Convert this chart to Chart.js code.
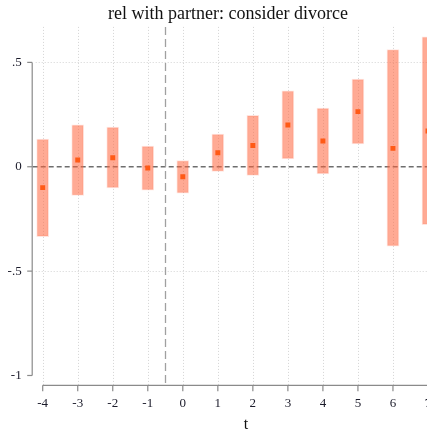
<!DOCTYPE html>
<html>
<head>
<meta charset="utf-8">
<title>rel with partner: consider divorce</title>
<script src="https://cdn.jsdelivr.net/npm/chart.js@4"></script>
<style>
  html, body { margin: 0; padding: 0; background: #fff; overflow: hidden; }
  #wrap { width: 462px; height: 430px; }
</style>
</head>
<body>
<div id="wrap"><canvas id="chart" width="462" height="430"></canvas></div>
<script>
// Event-study estimates with 95% confidence intervals
const periods   = [-4, -3, -2, -1, 0, 1, 2, 3, 4, 5, 6, 7];
const estimates = [-0.100, 0.032, 0.043, -0.006, -0.048, 0.067, 0.102, 0.200, 0.123, 0.264, 0.088, 0.171];
const lower     = [-0.335, -0.137, -0.102, -0.112, -0.126, -0.022, -0.041, 0.038, -0.034, 0.109, -0.380, -0.278];
const upper     = [0.133, 0.201, 0.190, 0.099, 0.030, 0.157, 0.246, 0.364, 0.281, 0.420, 0.561, 0.623];
const yTicks    = [-1, -0.5, 0, 0.5];
const yGrid     = [-0.5, 0.5];
const yTickText = ['-1', '-.5', '0', '.5'];
const treatLine = -0.5;

const FONT = '"Liberation Serif", "Times New Roman", serif';
const AXIS = '#8a8a8a';

// grid, reference lines and hand-drawn axes (Stata style: axes stop at the outer ticks)
const frame = {
  id: 'frame',
  beforeDatasetsDraw(chart) {
    const { ctx, chartArea: a, scales: { x, y } } = chart;
    ctx.save();
    ctx.lineWidth = 1;
    ctx.strokeStyle = '#d4d4d4';
    ctx.setLineDash([1, 2]);
    periods.forEach(t => {
      const px = Math.round(x.getPixelForValue(t)) + 0.5;
      ctx.beginPath(); ctx.moveTo(px, a.top); ctx.lineTo(px, a.bottom); ctx.stroke();
    });
    yGrid.forEach(v => {
      const py = Math.round(y.getPixelForValue(v)) + 0.5;
      ctx.beginPath(); ctx.moveTo(a.left, py); ctx.lineTo(a.right, py); ctx.stroke();
    });

    // zero line
    const y0 = y.getPixelForValue(0);
    ctx.strokeStyle = '#6e6e6e';
    ctx.lineWidth = 1.3;
    ctx.setLineDash([5, 3]);
    ctx.beginPath(); ctx.moveTo(a.left - 3, y0); ctx.lineTo(a.right, y0); ctx.stroke();

    // treatment line
    const xt = Math.round(x.getPixelForValue(treatLine)) + 0.5;
    ctx.strokeStyle = '#a0a0a0';
    ctx.lineWidth = 1.3;
    ctx.setLineDash([8, 4]);
    ctx.beginPath(); ctx.moveTo(xt, a.top); ctx.lineTo(xt, a.bottom); ctx.stroke();

    // axes
    ctx.setLineDash([]);
    ctx.strokeStyle = AXIS;
    ctx.lineWidth = 1.2;
    const ax = a.left - 3.5;
    const yTop = y.getPixelForValue(yTicks[yTicks.length - 1]);
    const yBot = y.getPixelForValue(yTicks[0]);
    ctx.beginPath(); ctx.moveTo(ax, yTop); ctx.lineTo(ax, yBot); ctx.stroke();
    yTicks.forEach(v => {
      const py = y.getPixelForValue(v);
      ctx.beginPath(); ctx.moveTo(ax - 5, py); ctx.lineTo(ax, py); ctx.stroke();
    });
    const ay = a.bottom;
    ctx.beginPath(); ctx.moveTo(x.getPixelForValue(periods[0]), ay); ctx.lineTo(chart.width, ay); ctx.stroke();
    periods.forEach(t => {
      const px = x.getPixelForValue(t);
      ctx.beginPath(); ctx.moveTo(px, ay); ctx.lineTo(px, ay + 6); ctx.stroke();
    });
    ctx.restore();
  }
};

new Chart(document.getElementById('chart'), {
  data: {
    datasets: [
      {
        type: 'scatter',
        label: 'estimate',
        data: periods.map((t, i) => ({ x: t, y: estimates[i] })),
        pointStyle: 'rect',
        pointRadius: 3.5,
        backgroundColor: '#ff5a16',
        borderWidth: 0,
        order: 0
      },
      {
        type: 'bar',
        label: '95% CI',
        data: periods.map((t, i) => ({ x: t, y: [lower[i], upper[i]] })),
        backgroundColor: 'rgba(255, 100, 60, 0.55)',
        borderColor: 'rgba(255, 120, 90, 0.2)',
        borderWidth: 1,
        borderSkipped: false,
        barThickness: 12,
        order: 1
      }
    ]
  },
  options: {
    responsive: false,
    animation: false,
    layout: { padding: { left: 0, right: 6, top: 0, bottom: 0 } },
    plugins: {
      legend: { display: false },
      tooltip: { enabled: false },
      title: {
        display: true,
        text: 'rel with partner: consider divorce',
        color: '#111',
        font: { family: FONT, size: 18, weight: 'normal', lineHeight: 1.2 },
        padding: { top: 3, bottom: 2.3 }
      }
    },
    scales: {
      x: {
        type: 'linear',
        offset: false,
        min: -4.2,
        max: 7.8,
        grid: { display: false, drawTicks: false },
        border: { display: false },
        afterBuildTicks: s => { s.ticks = periods.map(v => ({ value: v })); },
        afterFit: s => { s.height = 44.7; },
        ticks: {
          padding: 10,
          color: '#1b1b2a',
          font: { family: FONT, size: 13 },
          callback: v => String(v)
        },
        title: {
          display: true,
          text: 't',
          color: '#111',
          font: { family: FONT, size: 16, lineHeight: 1 },
          padding: { top: 0, bottom: -3 }
        }
      },
      y: {
        type: 'linear',
        min: -1.047,
        max: 0.67,
        grid: { display: false, drawTicks: false },
        border: { display: false },
        afterBuildTicks: s => { s.ticks = yTicks.map(v => ({ value: v })); },
        afterFit: s => { s.width = 35.7; },
        ticks: {
          padding: 14,
          color: '#1b1b2a',
          font: { family: FONT, size: 13 },
          callback: v => yTickText[yTicks.indexOf(v)]
        }
      }
    }
  },
  plugins: [frame]
});
</script>
</body>
</html>
